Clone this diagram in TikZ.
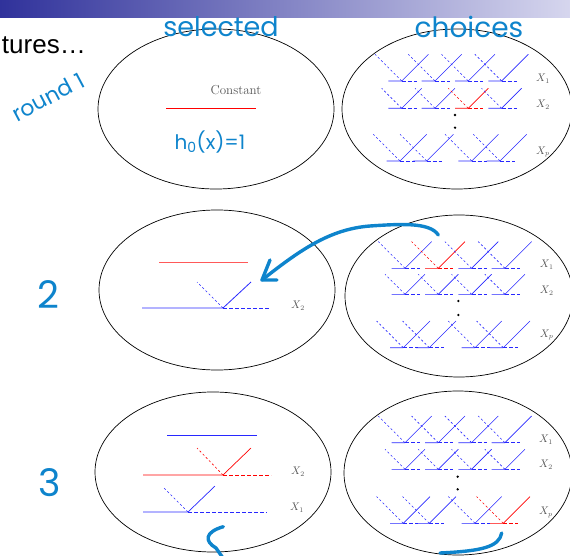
\documentclass[tikz,border=0pt]{standalone}
\usepackage{fontspec}
\newfontfamily\slidefont{Liberation Sans}
\newfontfamily\handfont{Poppins}
\definecolor{hand}{RGB}{14,132,204}
\definecolor{sblue}{RGB}{40,40,255}
\definecolor{lbl}{RGB}{85,85,85}
\definecolor{barL}{RGB}{48,50,155}
\definecolor{barR}{RGB}{214,214,238}
\tikzset{
  thinline/.style={line width=0.6pt},
  hdash/.style={dash pattern=on 4pt off 2pt},
  ddash/.style={dash pattern=on 2.2pt off 2.3pt},
  panel/.style={draw=black,line width=0.7pt},
  xlabel/.style={text=lbl,font=\fontsize{10.5}{12}\selectfont,inner sep=0pt},
  handtext/.style={text=hand,font=\handfont,inner sep=0pt},
  handstroke/.style={draw=hand,line width=3.4pt,line cap=round,line join=round},
  dotmark/.style={fill=black,circle,inner sep=0pt,minimum size=2.6pt}
}
\newcommand\stumpicon[4]{%
  \draw[#4,thinline] (#1-13.3,#2) -- (#1,#2) -- ++(#3,-#3);
  \draw[#4,thinline,hdash] (#1,#2) -- ++(15,0);
  \draw[#4,thinline,ddash] (#1,#2) -- ++(-#3,-#3);
}
\begin{document}
\begin{tikzpicture}[x=1pt,y=-1pt]
\useasboundingbox (0,0) rectangle (570,556);
% header bar
\shade[left color=barL,right color=barR] (0,0) rectangle (570,18);
\node[anchor=base east,inner sep=0pt,font=\slidefont\fontsize{26}{30}\selectfont] (title) at (86,54) {tures…};

% ---------- round 1 ----------
\draw[panel] (216,109) ellipse [x radius=118pt, y radius=80pt];
\draw[panel] (457,109) ellipse [x radius=115pt, y radius=80pt];
\node[text=lbl,inner sep=0pt,font=\fontsize{13}{15}\selectfont] (const) at (236,90) {Constant};
\draw[red,line width=0.8pt] (166,108) -- (256,108);

\foreach \i in {0,1,2,3} {\stumpicon{401.7+33.3*\i}{81}{26.7}{sblue}}
\foreach \i/\c in {0/sblue,1/sblue,2/red,3/sblue} {\stumpicon{401.7+33.3*\i}{108.3}{20}{\c}}
\foreach \x in {400,426.7,471.7,500} {\stumpicon{\x}{161}{26.7}{sblue}}
\node[dotmark] (d1a) at (455,115) {};
\node[dotmark] (d1b) at (455,127.7) {};
\node[xlabel] (l1a) at (543,79) {$X_1$};
\node[xlabel] (l1b) at (543,105) {$X_2$};
\node[xlabel] (l1c) at (543,152) {$X_p$};

% ---------- round 2 ----------
\draw[panel] (217,290) ellipse [x radius=118pt, y radius=80pt];
\draw[panel] (459,296) ellipse [x radius=114pt, y radius=81pt];
\draw[red!65,line width=1pt] (159,262) -- (248,262);
\draw[sblue,line width=0.8pt] (142,308) -- (223,308) -- (251,282);
\draw[sblue,thinline,hdash] (223,308) -- (270,308);
\draw[sblue,thinline,ddash] (223,308) -- (197,282);
\node[xlabel] (l2) at (298,306) {$X_2$};

\foreach \i/\c in {0/sblue,1/red,2/sblue,3/sblue} {\stumpicon{405+33.3*\i}{268.3}{26.7}{\c}}
\foreach \i in {0,1,2,3} {\stumpicon{405+33.3*\i}{294.3}{20}{sblue}}
\foreach \x in {403.3,429.3,475,503.3} {\stumpicon{\x}{347.7}{26.7}{sblue}}
\node[dotmark] (d2a) at (458.3,301) {};
\node[dotmark] (d2b) at (458.3,315) {};
\node[xlabel] (l2a) at (546.7,265) {$X_1$};
\node[xlabel] (l2b) at (546.7,290.7) {$X_2$};
\node[xlabel] (l2c) at (546.7,335) {$X_p$};

% ---------- round 3 ----------
\draw[panel] (213,472) ellipse [x radius=118pt, y radius=80pt];
\draw[panel] (458,473) ellipse [x radius=114pt, y radius=82pt];
\draw[sblue,line width=0.8pt] (167,435) -- (257,435);
\draw[red,line width=0.7pt] (143,475) -- (223,475) -- (251,448);
\draw[red,thinline,hdash] (223,475) -- (271,475);
\draw[red,thinline,ddash] (223,475) -- (197,448);
\draw[sblue,line width=0.7pt] (143,512) -- (188,512) -- (215,486);
\draw[sblue,thinline,hdash] (188,512) -- (267,512);
\draw[sblue,thinline,ddash] (188,512) -- (163,487);
\node[xlabel] (l3a) at (298,472) {$X_2$};
\node[xlabel] (l3b) at (297,508) {$X_1$};

\foreach \i in {0,1,2,3} {\stumpicon{405+33.3*\i}{442.7}{26.7}{sblue}}
\foreach \i in {0,1,2,3} {\stumpicon{405+33.3*\i}{469.3}{20}{sblue}}
\foreach \x/\c in {403.3/sblue,429.3/sblue,475/sblue,503.3/red} {\stumpicon{\x}{523.3}{26.7}{\c}}
\node[dotmark] (d3a) at (457.7,476.7) {};
\node[dotmark] (d3b) at (457.7,489.3) {};
\node[xlabel] (l3c) at (546,440) {$X_1$};
\node[xlabel] (l3d) at (546,465) {$X_2$};
\node[xlabel] (l3e) at (546,512.7) {$X_p$};

% ---------- handwriting ----------
\node[handtext,font=\handfont\fontsize{27}{30}\selectfont] (sel) at (221,27) {selected};
\node[handtext,font=\handfont\fontsize{28}{30}\selectfont] (cho) at (469,27) {choices};
\node[handtext,font=\handfont\fontsize{22}{26}\selectfont,rotate=28] (rnd) at (48,97) {round 1};
\node[handtext,font=\handfont\fontsize{20}{24}\selectfont] (hzero) at (210,142) {h\textsubscript{0}(x)=1};
\node[handtext,font=\handfont\fontsize{38}{40}\selectfont] (two) at (48,295) {2};
\node[handtext,font=\handfont\fontsize{38}{40}\selectfont] (three) at (50,483) {3};

\coordinate (astart) at (438.3,235);
\coordinate (amid) at (370,226);
\coordinate (atip) at (262,280);
\coordinate (abarbA) at (270,260);
\coordinate (abarbB) at (277,280);
\draw[handstroke] (astart) .. controls (430,222) and (400,224) .. (amid)
   .. controls (330,229) and (300,250) .. (atip);
\draw[handstroke] (abarbA) -- (atip) -- (abarbB);

\coordinate (cA) at (223.3,526.7);
\coordinate (cB) at (216,548);
\coordinate (cC) at (223,558);
\draw[handstroke] (cA) .. controls (205,532) and (204,541) .. (cB) -- (cC);
\coordinate (eA) at (501.7,533);
\coordinate (eB) at (440,553);
\draw[handstroke] (eA) .. controls (499,547) and (482,551) .. (eB);
\end{tikzpicture}
\end{document}
